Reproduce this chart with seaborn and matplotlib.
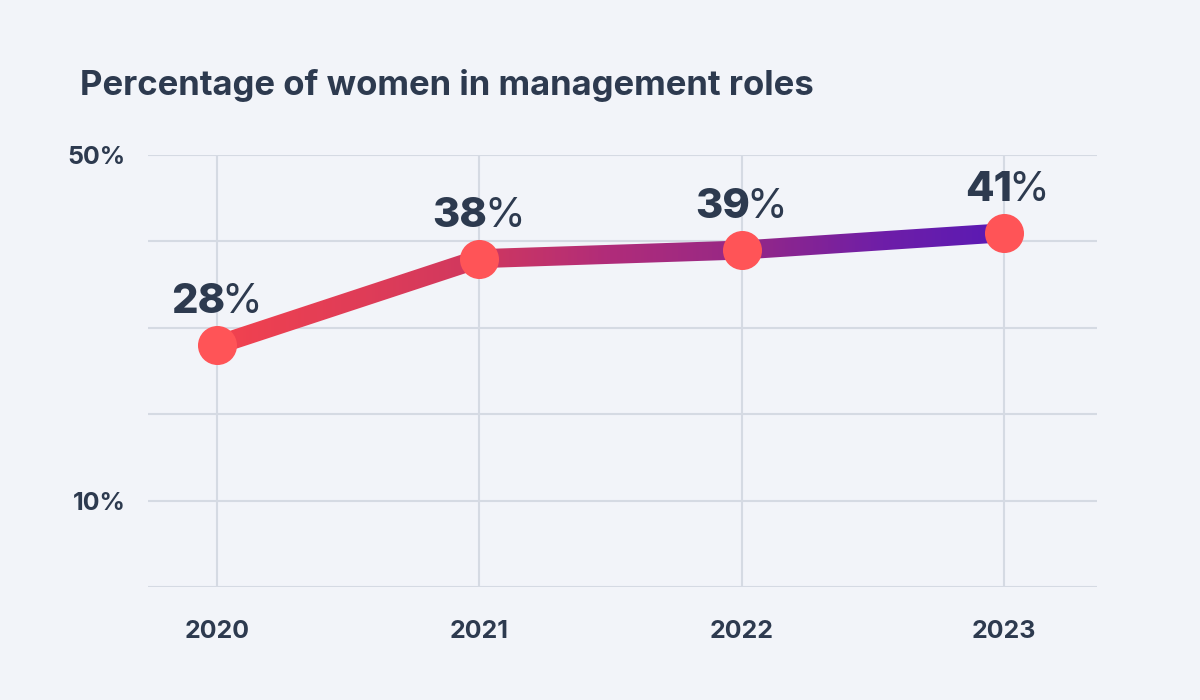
import numpy as np
import matplotlib
matplotlib.use('Agg')
import matplotlib.pyplot as plt
from matplotlib.colors import LinearSegmentedColormap
from matplotlib.path import Path
from matplotlib.patches import PathPatch
import pandas as pd
import seaborn as sns

# data
years = [2020, 2021, 2022, 2023]
pct = [28, 38, 39, 41]
ytick_vals = [0, 10, 20, 30, 40, 50]
ytick_labels = ['', '10%', '', '', '', '50%']
title = 'Percentage of women in management roles'

BG = '#F2F4F9'
INK = '#2D3A4F'
GRID = '#D5DAE3'
DOT = '#FF5457'

sns.set_style('white')
plt.rcParams['font.family'] = ['Inter', 'Lato', 'DejaVu Sans']

df = pd.DataFrame({'year': years, 'pct': pct})

fig = plt.figure(figsize=(12, 7), dpi=100)
fig.patch.set_facecolor(BG)
ax = fig.add_axes([148 / 1200, 1 - 587 / 700, 949 / 1200, 432 / 700])
ax.set_facecolor(BG)
ax.set_xlim(2020 - 0.263, 2023 + 0.355)
ax.set_ylim(0, 50)

# base line through seaborn (covered by the gradient band below)
sns.lineplot(data=df, x='year', y='pct', ax=ax, color='#B02E7C',
             linewidth=11, zorder=2)
line = ax.get_lines()[0]

# gradient band: clip a horizontal gradient to the stroked line outline
xy = line.get_xydata()
pts = ax.transData.transform(xy)
half = 9.5 * fig.dpi / 100
quads = []
for p0, p1 in zip(pts[:-1], pts[1:]):
    d = (p1 - p0) / np.hypot(*(p1 - p0))
    n = np.array([-d[1], d[0]]) * half
    quad = np.array([p0 + n, p1 + n, p1 - n, p0 - n, p0 + n])
    quads.append(Path(ax.transData.inverted().transform(quad), closed=True))
band = PathPatch(Path.make_compound_path(*quads), transform=ax.transData,
                 facecolor='none', edgecolor='none')
cmap = LinearSegmentedColormap.from_list('band', [
    (0.0, '#F2424F'), (0.33, '#D0385F'), (0.5, '#B02C7A'),
    (0.67, '#962886'), (0.85, '#6E1EA8'), (1.0, '#5A1AB4')])
grad = np.linspace(0, 1, 256).reshape(1, -1)
im = ax.imshow(grad, extent=(min(years), max(years), 0, 50), aspect='auto',
               cmap=cmap, origin='lower', zorder=3, interpolation='bicubic')
im.set_clip_path(band)
ax.set_xlim(2020 - 0.263, 2023 + 0.355)
ax.set_ylim(0, 50)

sns.scatterplot(data=df, x='year', y='pct', ax=ax, s=790, color=DOT,
                linewidth=0, zorder=4)

# value labels: heavy number + regular percent sign
for yr, v in zip(years, pct):
    t = ax.annotate(f'{v}', xy=(yr, v), xytext=(6, 23),
                    textcoords='offset points', ha='right', va='baseline',
                    fontsize=30, fontweight='heavy', color=INK, zorder=5)
    ax.annotate('%', xy=(1, 0), xycoords=t, xytext=(-2.5, 0),
                textcoords='offset points', ha='left', va='bottom',
                fontsize=30, fontweight='normal', color=INK, zorder=5)

ax.set_xticks(years)
ax.set_xticklabels([str(y) for y in years])
ax.set_yticks(ytick_vals)
ax.set_yticklabels(ytick_labels)
ax.tick_params(axis='both', length=0, colors=INK, labelsize=18)
ax.tick_params(axis='x', pad=24)
ax.tick_params(axis='y', pad=16)
for lab in ax.get_xticklabels() + ax.get_yticklabels():
    lab.set_fontweight('bold')
ax.set_xlabel('')
ax.set_ylabel('')
ax.grid(True, color=GRID, linewidth=1.5)
ax.set_axisbelow(True)
for s in ax.spines.values():
    s.set_visible(False)

fig.text(80 / 1200, 1 - 95 / 700, title, fontsize=25, fontweight='bold',
         color=INK, ha='left', va='baseline')

fig.savefig('out.png', dpi=100, facecolor=BG)
